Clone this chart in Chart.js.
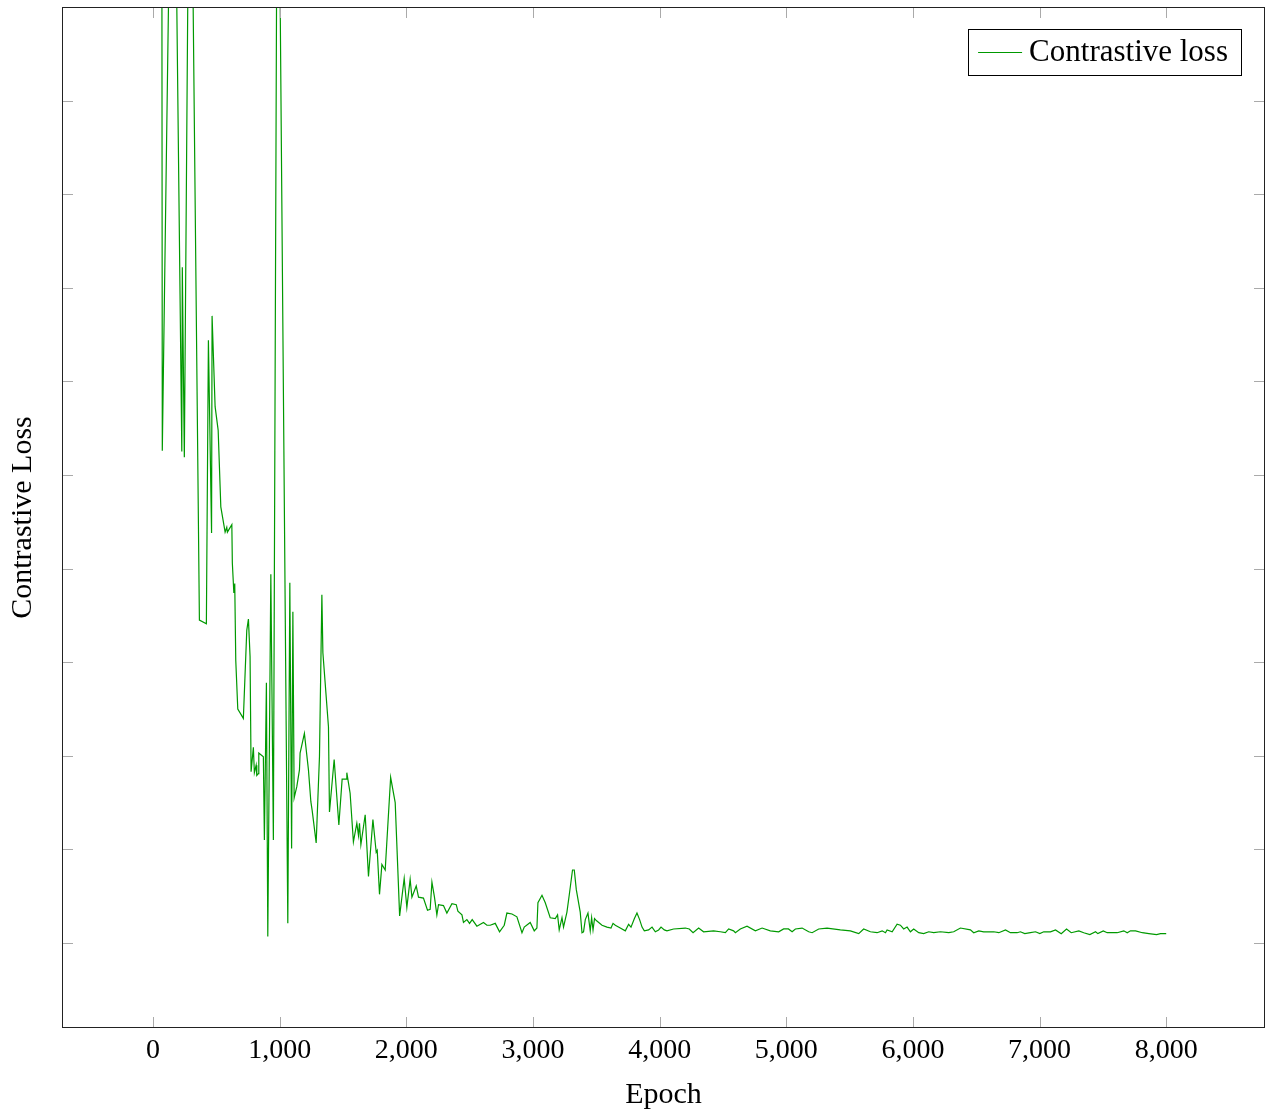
<!DOCTYPE html>
<html>
<head>
<meta charset="utf-8">
<script src="https://cdn.jsdelivr.net/npm/chart.js@4.4.1/dist/chart.umd.min.js"></script>
<style>
  html, body { margin: 0; padding: 0; background: #fff; }
</style>
</head>
<body>
<canvas id="chart" width="1269" height="1110"></canvas>
<script>
// training curve (values above 10 run off the top of the plot)
const epochs = [
  68, 73, 158, 227, 231, 247, 292, 366, 421, 437, 462, 466, 490, 514, 535, 569, 582, 587,
  622, 626, 638, 645, 653, 669, 713, 740, 753, 766, 774, 792, 800, 814, 819, 832, 835, 871,
  879, 895, 906, 930, 950, 984, 1064, 1080, 1094, 1104, 1114, 1135, 1156, 1161, 1195, 1227,
  1246, 1256, 1288, 1314, 1333, 1341, 1385, 1393, 1430, 1467, 1493, 1525, 1530, 1556, 1582,
  1609, 1622, 1630, 1641, 1675, 1701, 1736, 1762, 1770, 1788, 1807, 1833, 1876, 1912, 1947,
  1983, 2004, 2030, 2044, 2078, 2096, 2135, 2167, 2188, 2202, 2222, 2241, 2254, 2293, 2320,
  2360, 2394, 2407, 2439, 2451, 2478, 2499, 2520, 2557, 2609, 2636, 2662, 2702, 2736, 2773,
  2794, 2834, 2873, 2913, 2931, 2978, 3010, 3031, 3039, 3071, 3097, 3136, 3176, 3194, 3207,
  3229, 3241, 3268, 3286, 3312, 3326, 3342, 3373, 3387, 3399, 3413, 3434, 3452, 3463, 3474,
  3486, 3500, 3545, 3584, 3616, 3632, 3650, 3689, 3729, 3755, 3774, 3800, 3821, 3842, 3861,
  3879, 3913, 3940, 3966, 3992, 4011, 4037, 4058, 4110, 4203, 4234, 4264, 4308, 4347, 4426,
  4479, 4519, 4545, 4584, 4598, 4637, 4690, 4756, 4809, 4874, 4940, 4979, 5017, 5046, 5072,
  5125, 5177, 5204, 5256, 5322, 5427, 5506, 5572, 5611, 5664, 5717, 5757, 5783, 5796, 5836,
  5875, 5901, 5927, 5954, 5980, 6006, 6046, 6085, 6125, 6164, 6217, 6283, 6322, 6375, 6454,
  6480, 6520, 6559, 6638, 6678, 6731, 6770, 6823, 6849, 6883, 6928, 6968, 7002, 7033, 7086,
  7126, 7171, 7213, 7250, 7310, 7349, 7397, 7442, 7460, 7503, 7534, 7613, 7665, 7692, 7718,
  7758, 7811, 7863, 7924, 7955, 8000
];
const lossValues = [
  13.28, 5.26, 13.56, 5.25, 7.22, 5.19, 13.28, 3.45, 3.41, 6.44, 4.38, 6.70, 5.73, 5.48, 4.66, 4.39, 4.44, 4.39,
  4.47, 4.06, 3.74, 3.84, 3.02, 2.50, 2.40, 3.34, 3.46, 3.06, 1.83, 2.09, 1.82, 1.90, 1.79, 1.81, 2.03, 1.99,
  1.10, 2.78, 0.07, 3.94, 1.10, 13.28, 0.21, 3.85, 1.01, 3.54, 1.55, 1.67, 1.85, 2.03, 2.24, 1.85,
  1.51, 1.42, 1.07, 1.99, 3.72, 3.10, 2.31, 1.40, 1.96, 1.26, 1.75, 1.75, 1.82, 1.60, 1.08,
  1.28, 1.15, 1.28, 1.05, 1.37, 0.71, 1.32, 0.97, 0.99, 0.52, 0.84, 0.78, 1.77, 1.50, 0.29,
  0.69, 0.38, 0.68, 0.49, 0.61, 0.49, 0.48, 0.35, 0.36, 0.65, 0.49, 0.30, 0.41, 0.40, 0.32,
  0.42, 0.41, 0.34, 0.30, 0.22, 0.25, 0.21, 0.25, 0.18, 0.22, 0.19, 0.19, 0.21, 0.12, 0.19,
  0.32, 0.31, 0.28, 0.11, 0.17, 0.22, 0.13, 0.16, 0.43, 0.51, 0.43, 0.27, 0.26, 0.30, 0.14,
  0.27, 0.17, 0.33, 0.51, 0.78, 0.78, 0.57, 0.33, 0.11, 0.12, 0.25, 0.32, 0.13, 0.27, 0.14,
  0.26, 0.24, 0.19, 0.17, 0.16, 0.21, 0.19, 0.16, 0.13, 0.20, 0.17, 0.26, 0.32, 0.25, 0.17,
  0.13, 0.14, 0.17, 0.12, 0.14, 0.17, 0.14, 0.13, 0.15, 0.16, 0.15, 0.11, 0.16, 0.12, 0.13,
  0.12, 0.11, 0.15, 0.13, 0.11, 0.15, 0.18, 0.13, 0.16, 0.13, 0.12, 0.15, 0.15, 0.12, 0.15,
  0.16, 0.12, 0.11, 0.15, 0.16, 0.14, 0.13, 0.10, 0.15, 0.12, 0.11, 0.13, 0.11, 0.14, 0.12,
  0.20, 0.19, 0.15, 0.17, 0.12, 0.15, 0.11, 0.10, 0.12, 0.11, 0.12, 0.11, 0.12, 0.16, 0.14,
  0.11, 0.13, 0.12, 0.12, 0.11, 0.14, 0.11, 0.11, 0.12, 0.10, 0.11, 0.12, 0.10, 0.12, 0.12,
  0.14, 0.10, 0.15, 0.11, 0.13, 0.11, 0.09, 0.12, 0.10, 0.13, 0.11, 0.11, 0.13, 0.11, 0.13,
  0.13, 0.11, 0.10, 0.09, 0.10, 0.10
];

const xTicks = [0, 1000, 2000, 3000, 4000, 5000, 6000, 7000, 8000];
// y ticks have no labels in the figure, only marks
const yTicks = [0, 1, 2, 3, 4, 5, 6, 7, 8, 9];

const lineColor = '#009900';
const serif = '"Liberation Serif", "Times New Roman", serif';

// pgfplots-like box: inward tick marks on all four sides, plus a framed legend
const framePlugin = {
    id: 'frame',
    afterDatasetsDraw(chart) {
        const { ctx, chartArea: a, scales } = chart;
        const x = scales.x;
        const y = scales.y;
        const tl = 11;

        ctx.save();
        ctx.strokeStyle = '#aaaaaa';
        ctx.lineWidth = 1;
        ctx.beginPath();
        xTicks.forEach(v => {
            const px = Math.round(x.getPixelForValue(v)) + 0.5;
            ctx.moveTo(px, a.bottom);
            ctx.lineTo(px, a.bottom - tl);
            ctx.moveTo(px, a.top);
            ctx.lineTo(px, a.top + tl);
        });
        yTicks.forEach(v => {
            const py = Math.round(y.getPixelForValue(v)) + 0.5;
            ctx.moveTo(a.left, py);
            ctx.lineTo(a.left + tl, py);
            ctx.moveTo(a.right, py);
            ctx.lineTo(a.right - tl, py);
        });
        ctx.stroke();

        ctx.strokeStyle = '#222222';
        ctx.strokeRect(a.left + 0.5, a.top + 0.5, a.width - 1, a.height - 1);

        // legend
        const label = chart.data.datasets[0].label;
        ctx.font = '31px ' + serif;
        const textW = ctx.measureText(label).width;
        const boxH = 46;
        const boxW = 10 + 44 + 7 + textW + 13;
        const boxR = a.right - 24;
        const boxL = boxR - boxW;
        const boxT = a.top + 22;

        ctx.fillStyle = '#ffffff';
        ctx.fillRect(boxL, boxT, boxW, boxH);
        ctx.strokeStyle = '#000000';
        ctx.strokeRect(Math.round(boxL) + 0.5, boxT + 0.5, Math.round(boxW), boxH);

        ctx.strokeStyle = lineColor;
        ctx.beginPath();
        ctx.moveTo(boxL + 10, boxT + 23.5);
        ctx.lineTo(boxL + 54, boxT + 23.5);
        ctx.stroke();

        ctx.fillStyle = '#000000';
        ctx.textBaseline = 'alphabetic';
        ctx.fillText(label, boxL + 61, boxT + 32);
        ctx.restore();
    }
};

const ctx = document.getElementById('chart').getContext('2d');

new Chart(ctx, {
    type: 'line',
    data: {
        datasets: [{
            label: 'Contrastive loss',
            data: epochs.map((e, i) => ({ x: e, y: lossValues[i] })),
            borderColor: lineColor,
            backgroundColor: lineColor,
            borderWidth: 1.2,
            pointRadius: 0,
            tension: 0,
            fill: false
        }]
    },
    options: {
        responsive: false,
        animation: false,
        layout: { padding: { top: 7, right: 4, left: 0, bottom: 0 } },
        plugins: {
            legend: { display: false },
            tooltip: { enabled: false }
        },
        scales: {
            x: {
                type: 'linear',
                min: -719,
                max: 8780,
                afterBuildTicks: (scale) => {
                    scale.ticks = xTicks.map(v => ({ value: v }));
                },
                afterFit: (scale) => { scale.height = 82; },
                grid: { display: false, drawTicks: false },
                border: { display: false },
                ticks: {
                    color: '#000',
                    padding: 6,
                    maxRotation: 0,
                    font: { family: serif, size: 28 },
                    callback: (value) => value.toLocaleString('en-US')
                },
                title: {
                    display: true,
                    text: 'Epoch',
                    color: '#000',
                    padding: { top: 0, bottom: 0 },
                    font: { family: serif, size: 30, lineHeight: 1 }
                }
            },
            y: {
                type: 'linear',
                min: -0.908,
                max: 10,
                afterFit: (scale) => { scale.width = 62; },
                grid: { display: false, drawTicks: false },
                border: { display: false },
                ticks: { display: false },
                title: {
                    display: true,
                    text: 'Contrastive Loss',
                    color: '#000',
                    padding: { top: 8, bottom: 0 },
                    font: { family: serif, size: 30, lineHeight: 1 }
                }
            }
        }
    },
    plugins: [framePlugin]
});
</script>
</body>
</html>
